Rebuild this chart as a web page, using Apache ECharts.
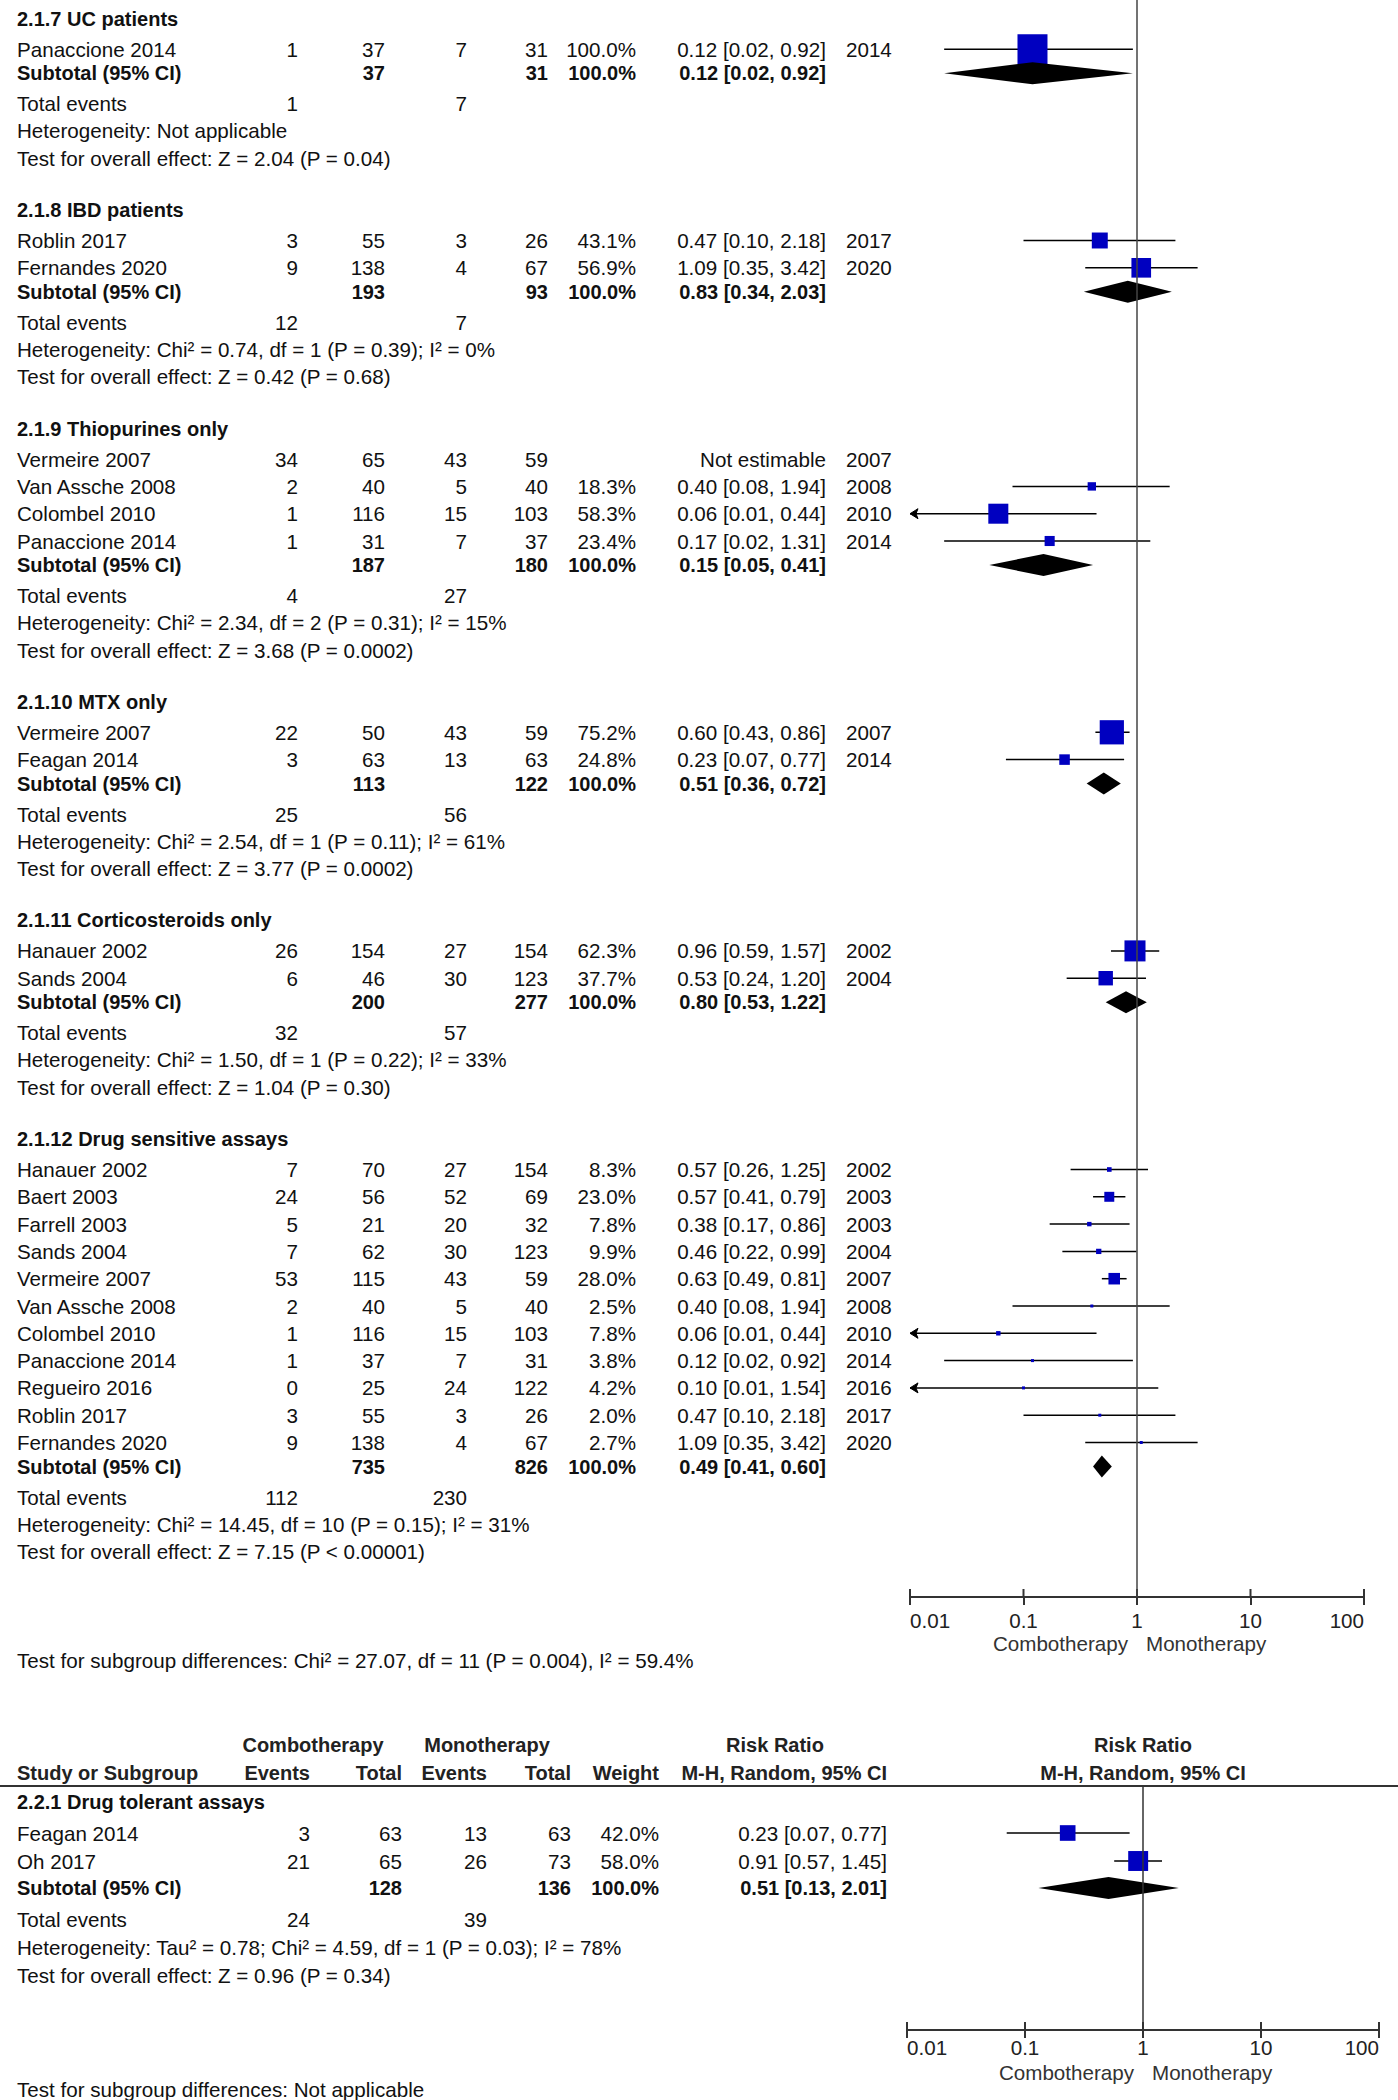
<!DOCTYPE html>
<html><head><meta charset="utf-8">
<script src="https://cdn.jsdelivr.net/npm/echarts@6/dist/echarts.min.js"></script>
<style>html,body{margin:0;padding:0;background:#fff}#chart{width:1398px;height:2100px}</style>
</head><body><div id="chart"></div>
<script>
// ================= DATA =================
const groupTitles = ['2.1.7 UC patients','2.1.8 IBD patients','2.1.9 Thiopurines only','2.1.10 MTX only','2.1.11 Corticosteroids only','2.1.12 Drug sensitive assays','2.2.1 Drug tolerant assays'];
const studyGroup = [0,1,1,2,2,2,2,3,3,4,4,5,5,5,5,5,5,5,5,5,5,5,6,6];
const studyNames = ['Panaccione 2014','Roblin 2017','Fernandes 2020','Vermeire 2007','Van Assche 2008','Colombel 2010','Panaccione 2014','Vermeire 2007','Feagan 2014','Hanauer 2002','Sands 2004','Hanauer 2002','Baert 2003','Farrell 2003','Sands 2004','Vermeire 2007','Van Assche 2008','Colombel 2010','Panaccione 2014','Regueiro 2016','Roblin 2017','Fernandes 2020','Feagan 2014','Oh 2017'];
const comboEvents = [1,3,9,34,2,1,1,22,3,26,6,7,24,5,7,53,2,1,1,0,3,9,3,21];
const comboTotal  = [37,55,138,65,40,116,31,50,63,154,46,70,56,21,62,115,40,116,37,25,55,138,63,65];
const monoEvents  = [7,3,4,43,5,15,7,43,13,27,30,27,52,20,30,43,5,15,7,24,3,4,13,26];
const monoTotal   = [31,26,67,59,40,103,37,59,63,154,123,154,69,32,123,59,40,103,31,122,26,67,63,73];
const studyWeight = [100.0,43.1,56.9,null,18.3,58.3,23.4,75.2,24.8,62.3,37.7,8.3,23.0,7.8,9.9,28.0,2.5,7.8,3.8,4.2,2.0,2.7,42.0,58.0];
const studyRR     = [0.12,0.47,1.09,null,0.40,0.06,0.17,0.60,0.23,0.96,0.53,0.57,0.57,0.38,0.46,0.63,0.40,0.06,0.12,0.10,0.47,1.09,0.23,0.91];
const studyLow    = [0.02,0.10,0.35,null,0.08,0.01,0.02,0.43,0.07,0.59,0.24,0.26,0.41,0.17,0.22,0.49,0.08,0.01,0.02,0.01,0.10,0.35,0.07,0.57];
const studyHigh   = [0.92,2.18,3.42,null,1.94,0.44,1.31,0.86,0.77,1.57,1.20,1.25,0.79,0.86,0.99,0.81,1.94,0.44,0.92,1.54,2.18,3.42,0.77,1.45];
const studyYear   = [2014,2017,2020,2007,2008,2010,2014,2007,2014,2002,2004,2002,2003,2003,2004,2007,2008,2010,2014,2016,2017,2020,null,null];
const subComboTotal = [37,193,187,113,200,735,128];
const subMonoTotal  = [31,93,180,122,277,826,136];
const subRR   = [0.12,0.83,0.15,0.51,0.80,0.49,0.51];
const subLow  = [0.02,0.34,0.05,0.36,0.53,0.41,0.13];
const subHigh = [0.92,2.03,0.41,0.72,1.22,0.60,2.01];
const totalComboEvents = [1,12,4,25,32,112,24];
const totalMonoEvents  = [7,7,27,56,57,230,39];
const heterogeneity = [
  'Heterogeneity: Not applicable',
  'Heterogeneity: Chi\u00b2 = 0.74, df = 1 (P = 0.39); I\u00b2 = 0%',
  'Heterogeneity: Chi\u00b2 = 2.34, df = 2 (P = 0.31); I\u00b2 = 15%',
  'Heterogeneity: Chi\u00b2 = 2.54, df = 1 (P = 0.11); I\u00b2 = 61%',
  'Heterogeneity: Chi\u00b2 = 1.50, df = 1 (P = 0.22); I\u00b2 = 33%',
  'Heterogeneity: Chi\u00b2 = 14.45, df = 10 (P = 0.15); I\u00b2 = 31%',
  'Heterogeneity: Tau\u00b2 = 0.78; Chi\u00b2 = 4.59, df = 1 (P = 0.03); I\u00b2 = 78%'
];
const overallEffect = [
  'Test for overall effect: Z = 2.04 (P = 0.04)',
  'Test for overall effect: Z = 0.42 (P = 0.68)',
  'Test for overall effect: Z = 3.68 (P = 0.0002)',
  'Test for overall effect: Z = 3.77 (P = 0.0002)',
  'Test for overall effect: Z = 1.04 (P = 0.30)',
  'Test for overall effect: Z = 7.15 (P < 0.00001)',
  'Test for overall effect: Z = 0.96 (P = 0.34)'
];
const subgroupTests = ['Test for subgroup differences: Chi\u00b2 = 27.07, df = 11 (P = 0.004), I\u00b2 = 59.4%','Test for subgroup differences: Not applicable'];
const axisTickLabels = ['0.01','0.1','1','10','100'];
const favoursLabels = ['Combotherapy','Monotherapy'];
const headerRow1 = ['Combotherapy','Monotherapy','Risk Ratio','Risk Ratio'];
const headerRow2 = ['Study or Subgroup','Events','Total','Events','Total','Weight','M-H, Random, 95% CI','M-H, Random, 95% CI'];

// ================= LAYOUT =================
const FONT = '"Liberation Sans", Arial, sans-serif';
const FS = 20.6, FSB = 20;
const TXT = '#111';
const panels = [
  {groups:[0,1,2,3,4,5], cols:[298,385,467,548,636,826], yearX:846, start:18.7, axisY:1597, plotTop:0, left:910, right:1364, testY:1660,
   labelMargin:13, favY:46, gap:{first:30.5, step:27.3, sub:24, tot:30.5, het:27, test:27.5, next:51.8}},
  {groups:[6], cols:[310,402,487,571,659,887], yearX:null, start:1802, axisY:2030, plotTop:1786, left:907, right:1379, testY:2089,
   labelMargin:7, favY:42, gap:{first:31, step:28, sub:27, tot:31, het:28, test:28, next:0}}
];
const NAME_X = 17;
const texts = [];
function txt(x, y, t, align, bold, color){ texts.push([x, y, String(t), align || 'left', !!bold, color || TXT]); }
const fmt2 = v => v.toFixed(2);
const rrText = (r,l,h) => fmt2(r) + ' [' + fmt2(l) + ', ' + fmt2(h) + ']';

const studyMarks = [[],[]];
const diamondMarks = [[],[]];

panels.forEach((P, pi) => {
  let y = P.start;
  P.groups.forEach(g => {
    txt(NAME_X, y, groupTitles[g], 'left', true);
    let sy = y + P.gap.first;
    let lastY = sy;
    studyGroup.forEach((sg, i) => {
      if (sg !== g) return;
      txt(NAME_X, sy, studyNames[i]);
      txt(P.cols[0], sy, comboEvents[i], 'right');
      txt(P.cols[1], sy, comboTotal[i], 'right');
      txt(P.cols[2], sy, monoEvents[i], 'right');
      txt(P.cols[3], sy, monoTotal[i], 'right');
      if (studyWeight[i] != null) txt(P.cols[4], sy, studyWeight[i].toFixed(1) + '%', 'right');
      if (studyRR[i] != null) {
        txt(P.cols[5], sy, rrText(studyRR[i], studyLow[i], studyHigh[i]), 'right');
        studyMarks[pi].push([studyRR[i], sy, studyLow[i], studyHigh[i], studyWeight[i]]);
      } else {
        txt(P.cols[5], sy, 'Not estimable', 'right');
      }
      if (P.yearX != null && studyYear[i] != null) txt(P.yearX, sy, studyYear[i], 'left');
      lastY = sy;
      sy += P.gap.step;
    });
    const subY = lastY + P.gap.sub;
    txt(NAME_X, subY, 'Subtotal (95% CI)', 'left', true);
    txt(P.cols[1], subY, subComboTotal[g], 'right', true);
    txt(P.cols[3], subY, subMonoTotal[g], 'right', true);
    txt(P.cols[4], subY, '100.0%', 'right', true);
    txt(P.cols[5], subY, rrText(subRR[g], subLow[g], subHigh[g]), 'right', true);
    diamondMarks[pi].push([subRR[g], subY, subLow[g], subHigh[g]]);
    const totY = subY + P.gap.tot;
    txt(NAME_X, totY, 'Total events');
    txt(P.cols[0], totY, totalComboEvents[g], 'right');
    txt(P.cols[2], totY, totalMonoEvents[g], 'right');
    const hetY = totY + P.gap.het;
    txt(NAME_X, hetY, heterogeneity[g]);
    const testY = hetY + P.gap.test;
    txt(NAME_X, testY, overallEffect[g]);
    y = testY + P.gap.next;
  });
  const mid = (P.left + P.right) / 2;
  txt(mid - 9, P.axisY + P.favY, favoursLabels[0], 'right', false, '#333');
  txt(mid + 9, P.axisY + P.favY, favoursLabels[1], 'left', false, '#333');
  txt(NAME_X, P.testY, subgroupTests[pi]);
});

// bottom table header
const H1 = 1745, H2 = 1773;
txt(313, H1, headerRow1[0], 'center', true, '#222');
txt(487, H1, headerRow1[1], 'center', true, '#222');
txt(775, H1, headerRow1[2], 'center', true, '#222');
txt(1143, H1, headerRow1[3], 'center', true, '#222');
txt(NAME_X, H2, headerRow2[0], 'left', true, '#222');
txt(310, H2, headerRow2[1], 'right', true, '#222');
txt(402, H2, headerRow2[2], 'right', true, '#222');
txt(487, H2, headerRow2[3], 'right', true, '#222');
txt(571, H2, headerRow2[4], 'right', true, '#222');
txt(659, H2, headerRow2[5], 'right', true, '#222');
txt(887, H2, headerRow2[6], 'right', true, '#222');
txt(1143, H2, headerRow2[7], 'center', true, '#222');

// ================= CHART =================
const chart = echarts.init(document.getElementById('chart'), null, {renderer: 'svg'});
const AXMIN = 0.01, AXMAX = 100;
const BLUE = '#0000c0';
const tickValues = axisTickLabels.map(Number);

function renderStudy(params, api) {
  const rr = api.value(0), y = api.value(1), lo = api.value(2), hi = api.value(3), w = api.value(4);
  const pl = api.coord([Math.max(lo, AXMIN), y]);
  const ph = api.coord([Math.min(hi, AXMAX), y]);
  const pc = api.coord([rr, y]);
  const s = Math.max(3, 30 * Math.pow(w / 100, 0.75));
  const children = [
    {type:'line', shape:{x1:pl[0], y1:pl[1], x2:ph[0], y2:ph[1]}, style:{stroke:'#000', lineWidth:1.5}},
    {type:'rect', shape:{x:pc[0]-s/2, y:pc[1]-s/2, width:s, height:s}, style:{fill:BLUE}}
  ];
  if (lo <= AXMIN) {
    children.push({type:'polygon', shape:{points:[[pl[0], pl[1]], [pl[0]+8, pl[1]-5], [pl[0]+6, pl[1]], [pl[0]+8, pl[1]+5]]}, style:{fill:'#000', stroke:'#000', lineWidth:1}});
  }
  return {type:'group', children};
}
function renderDiamond(params, api) {
  const rr = api.value(0), y = api.value(1), lo = api.value(2), hi = api.value(3);
  const pl = api.coord([lo, y]), ph = api.coord([hi, y]), pc = api.coord([rr, y]);
  const h = 11;
  return {type:'polygon', shape:{points:[[pl[0], pl[1]], [pc[0], pc[1]-h], [ph[0], ph[1]], [pc[0], pc[1]+h]]}, style:{fill:'#000'}};
}
function renderUpTick(params, api) {
  const p = api.coord([api.value(0), api.value(1)]);
  return {type:'line', shape:{x1:p[0], y1:p[1], x2:p[0], y2:p[1]-8}, style:{stroke:'#333', lineWidth:2}};
}
function renderText(params, api) {
  const t = texts[params.dataIndex];
  const p = api.coord([api.value(0), api.value(1)]);
  return {type:'text', x:p[0], y:p[1], style:{text:t[2], fill:t[5], font:(t[4] ? 'bold ' + FSB : FS) + 'px ' + FONT,
    align:t[3], textAlign:t[3], verticalAlign:'middle', textVerticalAlign:'middle'}};
}

const labelFmt = v => axisTickLabels[Math.round(Math.log10(v)) + 2];
function mainX(gi, margin) {
  return {type:'log', logBase:10, gridIndex:gi, min:AXMIN, max:AXMAX, position:'bottom',
    axisLine:{show:true, onZero:false, lineStyle:{color:'#333', width:2}},
    axisTick:{show:true, inside:false, length:8, lineStyle:{color:'#333', width:2}},
    axisLabel:{show:true, formatter:labelFmt, color:'#222', fontSize:FS, fontFamily:FONT, margin:margin, alignMinLabel:'left', alignMaxLabel:'right'},
    splitLine:{show:false}, minorTick:{show:false}};
}

const P0 = panels[0], P1 = panels[1];
const option = {
  animation: false,
  backgroundColor: '#fff',
  grid: [
    {left:0, top:0, width:1398, height:2100},
    {left:P0.left, top:P0.plotTop, width:P0.right-P0.left, height:P0.axisY-P0.plotTop},
    {left:P1.left, top:P1.plotTop, width:P1.right-P1.left, height:P1.axisY-P1.plotTop}
  ],
  xAxis: [
    {type:'value', gridIndex:0, min:0, max:1398, show:false},
    mainX(1, P0.labelMargin), mainX(2, P1.labelMargin)
  ],
  yAxis: [
    {type:'value', gridIndex:0, min:0, max:2100, inverse:true, show:false},
    {type:'value', gridIndex:1, min:P0.plotTop, max:P0.axisY, inverse:true, show:false, axisLine:{onZero:false}},
    {type:'value', gridIndex:2, min:P1.plotTop, max:P1.axisY, inverse:true, show:false, axisLine:{onZero:false}}
  ],
  series: [
    {type:'line', xAxisIndex:0, yAxisIndex:0, data:[[0, P1.plotTop], [1398, P1.plotTop]], symbol:'none', lineStyle:{color:'#333', width:2}, silent:true},
    {type:'line', xAxisIndex:1, yAxisIndex:1, data:[[1, P0.plotTop], [1, P0.axisY]], symbol:'none', lineStyle:{color:'#444', width:1.5}, silent:true},
    {type:'line', xAxisIndex:2, yAxisIndex:2, data:[[1, P1.plotTop], [1, P1.axisY]], symbol:'none', lineStyle:{color:'#333', width:1.5}, silent:true},
    {type:'custom', xAxisIndex:1, yAxisIndex:1, data:tickValues.map(v => [v, P0.axisY]), renderItem:renderUpTick, silent:true},
    {type:'custom', xAxisIndex:2, yAxisIndex:2, data:tickValues.map(v => [v, P1.axisY]), renderItem:renderUpTick, silent:true},
    {type:'custom', xAxisIndex:1, yAxisIndex:1, data:studyMarks[0], renderItem:renderStudy, silent:true},
    {type:'custom', xAxisIndex:1, yAxisIndex:1, data:diamondMarks[0], renderItem:renderDiamond, silent:true},
    {type:'custom', xAxisIndex:2, yAxisIndex:2, data:studyMarks[1], renderItem:renderStudy, silent:true},
    {type:'custom', xAxisIndex:2, yAxisIndex:2, data:diamondMarks[1], renderItem:renderDiamond, silent:true},
    {type:'custom', xAxisIndex:0, yAxisIndex:0, data:texts.map((t,i) => [t[0], t[1], i]), renderItem:renderText, silent:true}
  ]
};
chart.setOption(option);
</script>
</body></html>
